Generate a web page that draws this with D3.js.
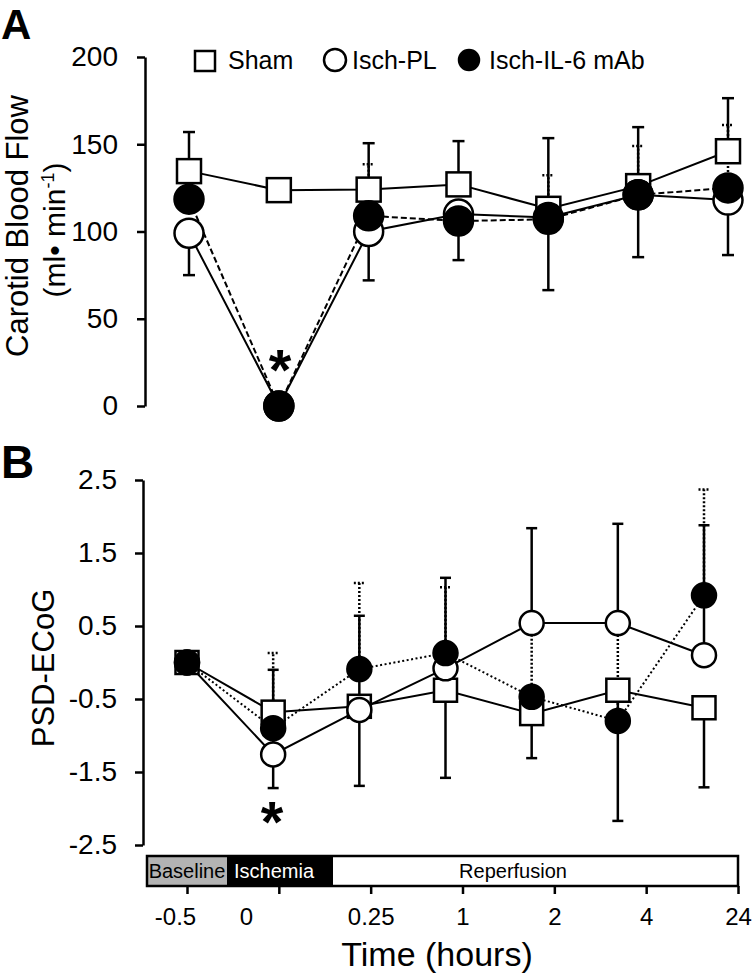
<!DOCTYPE html>
<html><head><meta charset="utf-8">
<script src="https://cdn.jsdelivr.net/npm/d3@7"></script>
<style>body{margin:0;background:#fff}svg{display:block;font-family:"Liberation Sans",Arial,sans-serif}</style>
</head><body><svg id="c" width="752" height="973"></svg>
<script>
// ---------- data ----------
const categories = ["-0.5", "0", "0.25", "1", "2", "4", "24"];
const seriesNames = ["Sham", "Isch-PL", "Isch-IL-6 mAb"];

// Panel A: Carotid blood flow (ml/min)
const flowSham       = [134.6, 123.7, 124, 127, 113, 126, 146];
const flowShamErrUp  = [22.4, 0, 26.6, 24.8, 40.5, 33.8, 30.4];
const flowPL         = [99, 0, 100, 110, 108, 121, 118];
const flowPLErrDown  = [24, 0, 28, 26.4, 41.6, 35.7, 31.5];
const flowIL6        = [118.5, 0, 109, 106, 107, 121, 125];
const flowIL6ErrUp   = [20, 0, 29.6, 25, 25.3, 28, 36];

// Panel B: PSD-ECoG
const ecogSham        = [0, -0.68, -0.6, -0.38, -0.7, -0.38, -0.62];
const ecogShamErrDown = [0, 1.04, 1.09, 1.20, 0.61, 1.79, 1.09];
const ecogPL          = [0, -1.26, -0.65, -0.08, 0.54, 0.54, 0.1];
const ecogPLErrUp     = [0, 1.16, 1.29, 1.24, 1.30, 1.36, 1.78];
const ecogIL6         = [0, -0.9, -0.09, 0.13, -0.47, -0.8, 0.92];
const ecogIL6ErrUp    = [0, 1.03, 1.18, 0.90, 1.01, 1.34, 1.45];

const flowTicks = [0, 50, 100, 150, 200];
const ecogTicks = [-2.5, -1.5, -0.5, 0.5, 1.5, 2.5];
const phases = ["Baseline", "Ischemia", "Reperfusion"];

// ---------- drawing ----------
const svg = d3.select("#c");

const xA = d3.scalePoint().domain(categories).range([189, 728]);
const yA = d3.scaleLinear().domain([0, 200]).range([406, 57]);
const xB = d3.scalePoint().domain(categories).range([187, 704]);
const yB = d3.scaleLinear().domain([-2.5, 2.5]).range([845, 480]);
const xT = d3.scalePoint().domain(categories).range([187, 738]);

function panel(x, y, series, cfg) {
  const g = svg.append("g");
  // error bars
  series.forEach(s => {
    categories.forEach((c, i) => {
      const v = s.values[i];
      [["up", s.errUp], ["down", s.errDown]].forEach(([dir, arr]) => {
        if (!arr || !arr[i]) return;
        const end = dir === "up" ? v + arr[i] : v - arr[i];
        const px = x(c);
        const dash = s.errDash || null;
        g.append("line").attr("x1", px).attr("x2", px)
          .attr("y1", y(v)).attr("y2", y(end))
          .attr("stroke", "#000").attr("stroke-width", 2.5)
          .attr("stroke-dasharray", dash);
        g.append("line").attr("x1", px - cfg.cap).attr("x2", px + cfg.cap)
          .attr("y1", y(end)).attr("y2", y(end))
          .attr("stroke", "#000").attr("stroke-width", 2.5)
          .attr("stroke-dasharray", dash);
      });
    });
  });
  // connecting lines
  series.forEach(s => {
    const line = d3.line().x((d, i) => x(categories[i])).y(d => y(d));
    g.append("path").datum(s.values).attr("d", line)
      .attr("fill", "none").attr("stroke", "#000")
      .attr("stroke-width", s.lineWidth || 2)
      .attr("stroke-dasharray", s.dash || null);
  });
  // markers
  series.forEach(s => {
    s.values.forEach((v, i) => {
      const px = x(categories[i]), py = y(v);
      if (s.shape === "square") {
        g.append("rect").attr("x", px - cfg.sq / 2).attr("y", py - cfg.sq / 2)
          .attr("width", cfg.sq).attr("height", cfg.sq)
          .attr("fill", s.fill).attr("stroke", "#000").attr("stroke-width", 2.5);
      } else {
        g.append("circle").attr("cx", px).attr("cy", py).attr("r", cfg.r)
          .attr("fill", s.fill).attr("stroke", "#000").attr("stroke-width", 2.5);
      }
    });
  });
}

// Panel A
panel(xA, yA, [
  { values: flowSham, errUp: flowShamErrUp, shape: "square", fill: "#fff" },
  { values: flowPL, errDown: flowPLErrDown, shape: "circle", fill: "#fff" },
  { values: flowIL6, errUp: flowIL6ErrUp, shape: "circle", fill: "#000", dash: "6,3", errDash: "2,2" }
], { cap: 6, sq: 24, r: 14.5 });

// Panel B
panel(xB, yB, [
  { values: ecogSham, errDown: ecogShamErrDown, shape: "square", fill: "#fff" },
  { values: ecogPL, errUp: ecogPLErrUp, shape: "circle", fill: "#fff" },
  { values: ecogIL6, errUp: ecogIL6ErrUp, shape: "circle", fill: "#000", dash: "2,2.5", errDash: "2,2" }
], { cap: 5.5, sq: 23, r: 12 });

// Axes
function styleAxis(sel, fs) {
  sel.select(".domain").attr("stroke-width", 2.5);
  sel.selectAll(".tick line").attr("stroke-width", 2.5);
  sel.selectAll(".tick text").attr("font-size", fs)
    .attr("font-family", '"Liberation Sans", Arial, sans-serif').attr("fill", "#000");
}
const axA = svg.append("g").attr("transform", "translate(145,0)")
  .call(d3.axisLeft(yA).tickValues(flowTicks).tickSize(8).tickSizeOuter(0).tickPadding(19));
styleAxis(axA, 28);
const axB = svg.append("g").attr("transform", "translate(143,0)")
  .call(d3.axisLeft(yB).tickValues(ecogTicks).tickFormat(d => String(d))
    .tickSize(8).tickSizeOuter(0).tickPadding(18));
styleAxis(axB, 28);

// Legend
const legend = svg.append("g");
legend.append("rect").attr("x", 195).attr("y", 51).attr("width", 20).attr("height", 20)
  .attr("fill", "#fff").attr("stroke", "#000").attr("stroke-width", 2.5);
legend.append("circle").attr("cx", 335).attr("cy", 60).attr("r", 11)
  .attr("fill", "#fff").attr("stroke", "#000").attr("stroke-width", 2.5);
legend.append("circle").attr("cx", 469).attr("cy", 60).attr("r", 10.5)
  .attr("fill", "#000").attr("stroke", "#000").attr("stroke-width", 1.5);
[[228, seriesNames[0]], [352, seriesNames[1]], [489, seriesNames[2]]].forEach(([lx, t]) => {
  legend.append("text").attr("x", lx).attr("y", 69).attr("font-size", 25).text(t);
});

// Panel letters
svg.append("text").attr("x", 1).attr("y", 39).attr("font-size", 42).attr("font-weight", "bold").text("A");
svg.append("text").attr("x", 1).attr("y", 478).attr("font-size", 46).attr("font-weight", "bold").text("B");

// Y titles
svg.append("text").attr("transform", "translate(28,226) rotate(-90)")
  .attr("text-anchor", "middle").attr("font-size", 31).text("Carotid Blood Flow");
const t2 = svg.append("text").attr("transform", "translate(65,230) rotate(-90)")
  .attr("text-anchor", "middle").attr("font-size", 30);
t2.append("tspan").text("(ml\u2022 min");
t2.append("tspan").attr("dy", -11).attr("font-size", 18).text("-1");
t2.append("tspan").attr("dy", 11).text(")");
svg.append("text").attr("transform", "translate(54,668) rotate(-90)")
  .attr("text-anchor", "middle").attr("font-size", 31).text("PSD-ECoG");

// Asterisks
svg.append("text").attr("x", 280).attr("y", 390).attr("text-anchor", "middle")
  .attr("font-size", 58).attr("font-weight", "bold").text("*");
svg.append("text").attr("x", 272).attr("y", 842).attr("text-anchor", "middle")
  .attr("font-size", 58).attr("font-weight", "bold").text("*");

// Phase bar
const bar = svg.append("g");
const bounds = [147, 227, 333, 738];
const fills = ["#b3b3b3", "#000", "#fff"];
const txtFill = ["#000", "#fff", "#000"];
const txtX = [187, 274, 513];
phases.forEach((p, i) => {
  bar.append("rect").attr("x", bounds[i]).attr("y", 856)
    .attr("width", bounds[i + 1] - bounds[i]).attr("height", 30).attr("fill", fills[i]);
  bar.append("text").attr("x", txtX[i]).attr("y", 878).attr("text-anchor", "middle")
    .attr("font-size", 20).attr("fill", txtFill[i]).text(p);
});
bar.append("rect").attr("x", 147).attr("y", 856).attr("width", 591).attr("height", 30)
  .attr("fill", "none").attr("stroke", "#000").attr("stroke-width", 2.5);

// Time axis
const axT = svg.append("g").attr("transform", "translate(0,886)")
  .call(d3.axisBottom(xT).tickSize(8).tickSizeOuter(0).tickPadding(14));
axT.select(".domain").remove();
axT.selectAll(".tick line").attr("stroke-width", 2.5);
axT.selectAll(".tick text").attr("font-size", 24).attr("fill", "#000")
  .attr("font-family", '"Liberation Sans", Arial, sans-serif')
  .attr("dx", (d, i) => i === 0 ? -12 : (i === 1 ? -33 : 0));

svg.append("text").attr("x", 437).attr("y", 966).attr("text-anchor", "middle")
  .attr("font-size", 34).text("Time (hours)");
</script>
</body></html>
